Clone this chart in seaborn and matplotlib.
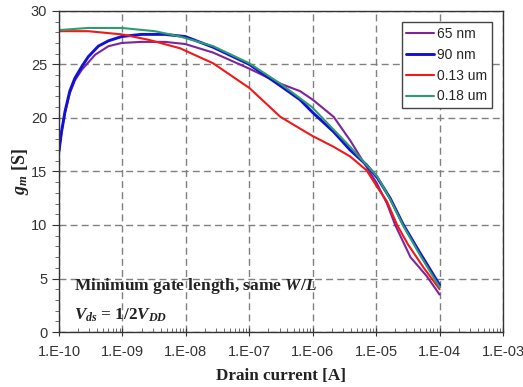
import numpy as np
import pandas as pd
import matplotlib
matplotlib.use("Agg")
import matplotlib.pyplot as plt
from matplotlib.ticker import FixedLocator, FuncFormatter, LogLocator, MultipleLocator
import seaborn as sns

# Transconductance gm [S] versus drain current, given as decade exponents of I_D [A]
exp_65nm = [-10, -9.96, -9.905, -9.83, -9.75, -9.64, -9.43, -9.22, -9.01, -8.70,
            -8.33, -8.01, -7.57, -7.0, -6.51, -6.2, -6.0, -5.67, -5.41, -5.15,
            -4.99, -4.83, -4.70, -4.46, -4.2, -4.0]
gm_65nm = [16.9, 18.7, 20.5, 22.3, 23.5, 24.5, 25.9, 26.7, 27.0, 27.1,
           27.1, 26.9, 26.1, 24.6, 23.2, 22.5, 21.7, 20.1, 17.9, 15.4,
           13.9, 12.0, 10.0, 7.0, 5.2, 3.5]

exp_90nm = [-10, -9.96, -9.905, -9.83, -9.75, -9.64, -9.54, -9.38, -9.22, -9.01,
            -8.70, -8.33, -8.01, -7.57, -7.0, -6.51, -6.2, -6.0, -5.67, -5.41,
            -5.15, -4.98, -4.78, -4.57, -4.31, -4.0]
gm_90nm = [16.9, 18.7, 20.6, 22.5, 23.7, 24.8, 25.7, 26.7, 27.2, 27.6,
           27.8, 27.8, 27.6, 26.6, 25.0, 23.0, 21.7, 20.5, 18.7, 17.0,
           15.6, 14.4, 12.5, 10.0, 7.4, 4.4]

exp_013um = [-10, -9.54, -9.01, -8.59, -8.09, -7.57, -7.0, -6.51, -6.2, -6.0,
             -5.67, -5.41, -5.15, -4.99, -4.83, -4.67, -4.5, -4.25, -4.0]
gm_013um = [28.1, 28.1, 27.8, 27.3, 26.5, 25.1, 22.8, 20.1, 19.0, 18.3,
            17.3, 16.4, 15.1, 13.6, 12.2, 10.0, 8.2, 6.0, 4.0]

exp_018um = [-10, -9.54, -9.01, -8.49, -8.09, -7.57, -7.0, -6.51, -6.01, -5.67,
             -5.41, -5.15, -4.98, -4.78, -4.58, -4.31, -4.0]
gm_018um = [28.2, 28.4, 28.4, 28.1, 27.6, 26.7, 25.1, 23.2, 21.0, 18.9,
            17.3, 15.6, 14.5, 12.4, 10.0, 7.2, 4.2]

labels = ["65 nm", "90 nm", "0.13 um", "0.18 um"]
colors = ["#7e249a", "#1212d6", "#f01818", "#2e9c70"]
widths = [1.5, 2.1, 1.5, 1.5]

frames = []
for lab, ex, vals in zip(labels,
                         [exp_65nm, exp_90nm, exp_013um, exp_018um],
                         [gm_65nm, gm_90nm, gm_013um, gm_018um]):
    frames.append(pd.DataFrame({"current": 10.0 ** np.array(ex),
                                "gm": vals, "node": lab}))
df = pd.concat(frames, ignore_index=True)

sns.set_style("white")
plt.rcParams["font.family"] = ["Liberation Sans", "DejaVu Sans"]
plt.rcParams["mathtext.fontset"] = "custom"
plt.rcParams["mathtext.it"] = "Liberation Serif:bold:italic"
plt.rcParams["mathtext.rm"] = "Liberation Serif:bold"
plt.rcParams["mathtext.bf"] = "Liberation Serif:bold"

fig = plt.figure(figsize=(5.23, 3.87), dpi=100)
ax = fig.add_axes([0.1128, 0.142, 0.849, 0.830])

sns.lineplot(data=df, x="current", y="gm", hue="node", hue_order=labels,
             palette=colors, ax=ax, legend=False, estimator=None, sort=False)
for line, w in zip(ax.get_lines(), widths):
    line.set_linewidth(w)
    line.set_solid_joinstyle("round")

ax.set_xscale("log")
ax.set_xlim(1e-10, 1e-3)
ax.set_ylim(0, 30)

ax.xaxis.set_major_locator(FixedLocator([10.0 ** e for e in range(-10, -2)]))
ax.xaxis.set_major_formatter(FuncFormatter(
    lambda v, p: "1.E-%02d" % int(round(-np.log10(v)))))
ax.xaxis.set_minor_locator(LogLocator(base=10, subs=np.arange(2, 10), numticks=20))
ax.yaxis.set_major_locator(MultipleLocator(5))
ax.yaxis.set_minor_locator(MultipleLocator(1))

ax.grid(True, which="major", color="#808080", linestyle=(0, (5, 3)), linewidth=1.0)
for s in ax.spines.values():
    s.set_color("#333333")
    s.set_linewidth(1.0)

ax.tick_params(axis="x", which="major", direction="inout", length=6,
               labelsize=10.5, colors="#333333", bottom=True, pad=6)
ax.tick_params(axis="x", which="minor", direction="in", length=3,
               bottom=True, colors="#555555")
ax.tick_params(axis="y", which="major", direction="out", length=5,
               labelsize=10.5, colors="#333333", left=True)
ax.tick_params(axis="y", which="minor", direction="out", length=3,
               left=True, colors="#555555")

ax.set_xlabel("Drain current [A]", fontfamily="Liberation Serif",
              fontweight="bold", fontsize=12.3, color="#222222", labelpad=7)
ax.set_ylabel("$g_m$ [S]", fontfamily="Liberation Serif",
              fontweight="bold", fontsize=13, color="#222222", labelpad=0)

ax.text(0.033, 0.132, "Minimum gate length, same $W/L$",
        transform=ax.transAxes, fontfamily="Liberation Serif",
        fontweight="bold", fontsize=12.5, color="#222222")
ax.text(0.033, 0.04, "$V_{ds}$ = 1/2$V_{DD}$",
        transform=ax.transAxes, fontfamily="Liberation Serif",
        fontweight="bold", fontsize=12.3, color="#222222")

handles = [plt.Line2D([], [], color=c, linewidth=w) for c, w in zip(colors, widths)]
leg = ax.legend(handles, labels, loc="upper right",
                bbox_to_anchor=(0.975, 0.966), fontsize=10,
                frameon=True, fancybox=False, framealpha=1,
                handlelength=2.0, handletextpad=0.2, borderpad=0.35,
                labelspacing=0.5, borderaxespad=0)
leg.get_frame().set_edgecolor("#444444")
leg.get_frame().set_linewidth(1.0)

fig.savefig("out.png", dpi=100)
